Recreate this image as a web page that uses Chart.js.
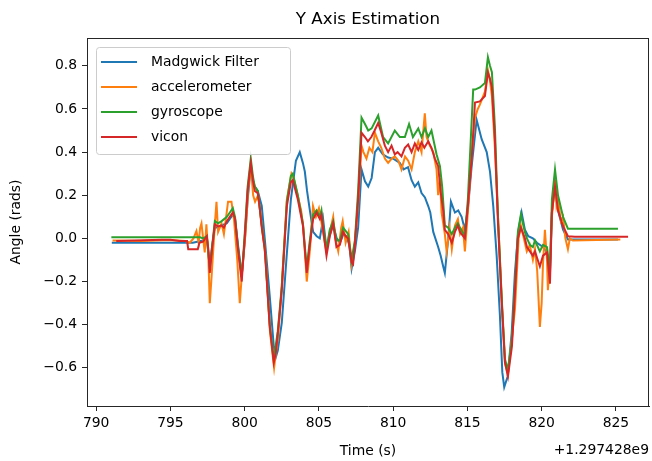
<!DOCTYPE html>
<html lang="en">
<head>
<meta charset="UTF-8">
<title>Y Axis Estimation</title>
<script src="https://cdn.jsdelivr.net/npm/chart.js@4"></script>
<style>
  html, body { margin: 0; padding: 0; background: #fff; }
  #wrap { width: 652px; height: 461px; position: relative; }
</style>
</head>
<body>
<div id="wrap"><canvas id="chart"></canvas></div>
<script>
// tick labels
const xTicks = [790, 795, 800, 805, 810, 815, 820, 825];
const yTicks = [-0.6, -0.4, -0.2, 0.0, 0.2, 0.4, 0.6, 0.8];
const seriesNames = ['Madgwick Filter', 'accelerometer', 'gyroscope', 'vicon'];

// Madgwick filter (time offset from 1.297428e9, angle in rads)
const madgwickT = [791.05, 796.5, 797.2, 797.45, 797.65, 797.8, 797.99, 798.2, 798.45, 798.8, 799.0, 799.2, 799.35, 799.55, 799.8, 800.0, 800.2, 800.41, 800.55, 800.68, 800.88, 801.15, 801.35, 801.69, 801.96, 802.1, 802.23, 802.5, 802.84, 803.11, 803.45, 803.71, 803.92, 804.05, 804.2, 804.39, 804.61, 804.85, 805.06, 805.28, 805.51, 805.75, 805.96, 806.2, 806.41, 806.65, 806.86, 807.05, 807.2, 807.42, 807.64, 807.87, 808.1, 808.32, 808.55, 808.77, 808.99, 809.3, 809.66, 810.0, 810.45, 810.7, 811.0, 811.24, 811.46, 811.69, 811.91, 812.14, 812.36, 812.5, 812.7, 813.03, 813.2, 813.37, 813.48, 813.71, 813.89, 814.16, 814.38, 814.61, 814.83, 815.05, 815.28, 815.62, 815.96, 816.3, 816.52, 816.74, 816.97, 817.19, 817.35, 817.48, 817.71, 817.98, 818.2, 818.42, 818.65, 818.87, 819.1, 819.41, 819.68, 820.09, 820.3, 820.44, 820.56, 820.69, 820.9, 821.1, 821.44, 821.77, 825.14];
const madgwickY = [-0.02, -0.02, -0.01, 0.0, -0.13, -0.04, 0.05, 0.05, 0.06, 0.07, 0.09, 0.11, 0.09, -0.03, -0.17, -0.02, 0.18, 0.33, 0.27, 0.24, 0.22, 0.15, 0.0, -0.27, -0.50, -0.55, -0.52, -0.39, -0.07, 0.18, 0.36, 0.40, 0.35, 0.31, 0.22, 0.13, 0.03, 0.01, 0.0, 0.09, -0.05, 0.02, 0.06, 0.0, -0.02, 0.02, 0.01, -0.03, -0.14, -0.06, 0.05, 0.32, 0.265, 0.24, 0.28, 0.40, 0.42, 0.39, 0.375, 0.37, 0.35, 0.32, 0.33, 0.27, 0.24, 0.26, 0.21, 0.19, 0.15, 0.12, 0.03, -0.04, -0.08, -0.13, -0.16, 0.0, 0.17, 0.12, 0.13, 0.10, 0.04, 0.15, 0.33, 0.55, 0.46, 0.40, 0.31, 0.15, -0.08, -0.36, -0.62, -0.69, -0.64, -0.44, -0.16, 0.03, 0.12, 0.04, 0.01, 0.0, -0.02, -0.04, -0.06, -0.11, -0.17, 0.12, 0.25, 0.13, 0.04, -0.005, -0.005];

// accelerometer
const accelT = [791.1, 793.0, 795.0, 796.0, 796.3, 796.55, 796.75, 796.9, 797.0, 797.09, 797.2, 797.31, 797.42, 797.55, 797.65, 797.75, 797.99, 798.1, 798.21, 798.44, 798.6, 798.75, 798.88, 799.11, 799.29, 799.5, 799.67, 799.83, 800.05, 800.25, 800.41, 800.57, 800.7, 800.9, 801.05, 801.2, 801.4, 801.7, 801.98, 802.12, 802.25, 802.5, 802.84, 803.15, 803.3, 803.6, 803.8, 803.95, 804.18, 804.4, 804.6, 804.8, 805.0, 805.2, 805.5, 805.7, 805.96, 806.1, 806.3, 806.5, 806.6, 806.8, 807.0, 807.2, 807.42, 807.64, 807.87, 808.0, 808.2, 808.4, 808.6, 808.77, 808.99, 809.2, 809.44, 809.66, 809.9, 810.11, 810.35, 810.56, 810.8, 811.01, 811.24, 811.46, 811.69, 811.91, 812.13, 812.25, 812.47, 812.7, 812.92, 813.03, 813.15, 813.26, 813.48, 813.6, 813.8, 813.95, 814.16, 814.36, 814.5, 814.7, 814.83, 815.03, 815.3, 815.51, 815.7, 815.84, 816.18, 816.38, 816.52, 816.65, 816.85, 817.06, 817.32, 817.53, 817.73, 818.0, 818.2, 818.3, 818.45, 818.6, 818.87, 819.0, 819.2, 819.41, 819.55, 819.7, 819.88, 820.0, 820.09, 820.22, 820.36, 820.42, 820.56, 820.69, 820.9, 821.0, 821.1, 821.3, 821.44, 821.6, 821.77, 821.9, 822.1, 825.3];
const accelY = [-0.01, -0.012, -0.008, -0.012, -0.02, 0.0, 0.034, -0.02, 0.05, 0.07, 0.0, -0.065, 0.065, -0.08, -0.30, -0.20, 0.065, 0.17, 0.03, 0.07, 0.02, 0.10, 0.17, 0.17, 0.08, -0.10, -0.30, -0.15, 0.02, 0.24, 0.34, 0.20, 0.17, 0.20, 0.12, 0.03, -0.08, -0.43, -0.60, -0.52, -0.46, -0.22, 0.18, 0.30, 0.28, 0.19, 0.13, 0.05, -0.20, -0.05, 0.15, 0.10, 0.14, 0.06, -0.06, 0.02, 0.10, 0.0, -0.06, 0.05, 0.08, -0.02, 0.03, -0.12, -0.02, 0.16, 0.43, 0.40, 0.37, 0.42, 0.40, 0.49, 0.45, 0.42, 0.37, 0.35, 0.37, 0.38, 0.36, 0.32, 0.38, 0.36, 0.32, 0.40, 0.45, 0.40, 0.58, 0.47, 0.43, 0.40, 0.32, 0.20, 0.28, 0.12, 0.02, -0.06, 0.05, -0.05, 0.06, 0.09, 0.02, 0.05, -0.06, 0.12, 0.40, 0.56, 0.60, 0.62, 0.68, 0.78, 0.73, 0.66, 0.42, 0.10, -0.30, -0.58, -0.63, -0.46, -0.33, -0.20, 0.0, 0.06, -0.02, -0.06, -0.03, -0.10, -0.05, -0.15, -0.41, -0.30, -0.12, 0.04, -0.10, -0.24, -0.12, 0.10, 0.27, 0.15, 0.18, 0.08, 0.10, 0.0, -0.05, 0.0, -0.01, -0.005];

// gyroscope
const gyroT = [791.02, 797.0, 797.2, 797.45, 797.65, 797.8, 797.99, 798.2, 798.45, 798.8, 799.0, 799.2, 799.35, 799.55, 799.8, 800.0, 800.2, 800.41, 800.55, 800.68, 800.88, 801.15, 801.35, 801.69, 801.96, 802.23, 802.5, 802.84, 803.11, 803.24, 803.58, 803.92, 804.18, 804.35, 804.61, 804.84, 805.06, 805.17, 805.3, 805.51, 805.73, 805.96, 806.18, 806.41, 806.63, 806.97, 807.2, 807.42, 807.64, 807.87, 808.1, 808.32, 808.55, 808.99, 809.32, 809.66, 810.11, 810.45, 810.79, 811.07, 811.33, 811.69, 811.91, 812.14, 812.36, 812.58, 812.92, 813.15, 813.3, 813.48, 813.7, 813.95, 814.16, 814.36, 814.5, 814.83, 815.03, 815.39, 815.51, 815.84, 816.18, 816.38, 816.52, 816.65, 816.85, 817.06, 817.32, 817.53, 817.73, 818.0, 818.2, 818.4, 818.6, 818.87, 819.01, 819.21, 819.41, 819.55, 819.88, 820.09, 820.36, 820.56, 820.69, 820.9, 821.1, 821.44, 821.77, 825.14];
const gyroY = [0.005, 0.005, 0.0, 0.01, -0.14, -0.04, 0.08, 0.07, 0.08, 0.10, 0.12, 0.14, 0.10, -0.04, -0.18, 0.02, 0.24, 0.37, 0.29, 0.24, 0.22, 0.06, -0.04, -0.40, -0.56, -0.43, -0.22, 0.17, 0.29, 0.30, 0.20, 0.07, -0.14, -0.03, 0.11, 0.13, 0.10, 0.13, 0.05, -0.05, 0.04, 0.08, -0.01, -0.01, 0.05, 0.02, -0.10, -0.01, 0.22, 0.56, 0.53, 0.50, 0.51, 0.57, 0.47, 0.44, 0.50, 0.47, 0.47, 0.53, 0.47, 0.51, 0.47, 0.51, 0.47, 0.50, 0.39, 0.335, 0.24, 0.06, 0.05, 0.02, 0.05, 0.07, 0.05, 0.01, 0.18, 0.69, 0.69, 0.70, 0.72, 0.84, 0.80, 0.77, 0.52, 0.10, -0.29, -0.56, -0.61, -0.47, -0.22, 0.03, 0.11, 0.03, 0.0, -0.03, -0.04, -0.01, -0.06, -0.03, -0.04, -0.15, 0.18, 0.32, 0.20, 0.10, 0.045, 0.045];

// vicon
const viconT = [791.35, 794.4, 795.0, 795.6, 796.12, 796.2, 796.84, 796.95, 797.2, 797.45, 797.55, 797.65, 797.8, 797.99, 798.2, 798.45, 798.6, 798.8, 799.0, 799.2, 799.35, 799.55, 799.8, 800.0, 800.2, 800.41, 800.55, 800.68, 800.88, 801.0, 801.15, 801.35, 801.69, 801.96, 802.1, 802.23, 802.5, 802.84, 803.11, 803.24, 803.58, 803.75, 803.92, 804.18, 804.35, 804.61, 804.84, 805.06, 805.17, 805.3, 805.51, 805.73, 805.96, 806.18, 806.41, 806.63, 806.8, 806.97, 807.2, 807.3, 807.42, 807.64, 807.87, 808.1, 808.3, 808.53, 808.75, 808.99, 809.2, 809.44, 809.66, 809.89, 810.11, 810.3, 810.56, 810.79, 811.01, 811.24, 811.46, 811.69, 811.91, 812.1, 812.36, 812.58, 812.81, 813.03, 813.21, 813.37, 813.48, 813.7, 813.95, 814.16, 814.36, 814.5, 814.83, 815.03, 815.3, 815.51, 815.84, 816.18, 816.38, 816.52, 816.65, 816.85, 817.06, 817.32, 817.53, 817.73, 818.0, 818.2, 818.4, 818.6, 818.87, 819.01, 819.21, 819.41, 819.55, 819.88, 820.09, 820.36, 820.56, 820.69, 820.9, 821.1, 821.44, 821.77, 822.24, 825.82];
const viconY = [-0.012, -0.006, -0.006, -0.012, -0.012, -0.05, -0.05, -0.02, -0.015, 0.01, -0.05, -0.16, -0.05, 0.065, 0.055, 0.06, 0.05, 0.08, 0.10, 0.12, 0.09, -0.05, -0.20, 0.00, 0.22, 0.35, 0.27, 0.22, 0.21, 0.15, 0.05, -0.05, -0.41, -0.575, -0.53, -0.44, -0.24, 0.15, 0.26, 0.27, 0.18, 0.12, 0.06, -0.16, -0.05, 0.09, 0.12, 0.09, 0.11, 0.03, -0.08, 0.01, 0.07, -0.04, -0.03, 0.03, 0.01, 0.0, -0.11, -0.12, -0.03, 0.18, 0.49, 0.47, 0.45, 0.47, 0.50, 0.535, 0.49, 0.43, 0.40, 0.43, 0.39, 0.40, 0.38, 0.42, 0.435, 0.40, 0.44, 0.41, 0.445, 0.42, 0.45, 0.42, 0.37, 0.335, 0.21, 0.13, 0.04, 0.02, -0.02, 0.03, 0.06, 0.03, 0.00, 0.15, 0.38, 0.63, 0.635, 0.66, 0.77, 0.74, 0.70, 0.46, 0.07, -0.31, -0.575, -0.64, -0.50, -0.25, 0.00, 0.05, 0.00, -0.04, -0.06, -0.08, -0.06, -0.13, -0.08, -0.065, -0.21, 0.12, 0.24, 0.13, 0.056, 0.01, 0.008, 0.008];

const FONT = 'DejaVu Sans';
const colors = ['#1f77b4', '#ff7f0e', '#2ca02c', '#d62728'];
const times = [madgwickT, accelT, gyroT, viconT];
const values = [madgwickY, accelY, gyroY, viconY];

function toPoints(ts, vs) {
  return ts.map((t, i) => ({ x: t, y: vs[i] }));
}

// frame, title, legend box and offset label, drawn like matplotlib does
const decor = {
  id: 'decor',
  afterDraw(chart) {
    const { ctx, chartArea: a } = chart;
    const l = Math.round(a.left), r = Math.round(a.right);
    const t = Math.round(a.top), b = Math.round(a.bottom);
    ctx.save();
    // top and right spines (left and bottom come from the axes)
    ctx.fillStyle = '#262626';
    ctx.fillRect(l, t, r - l, 1);
    ctx.fillRect(r - 1, t, 1, b - t);

    ctx.fillStyle = '#000';
    ctx.textAlign = 'center';
    ctx.textBaseline = 'middle';
    ctx.font = '16.7px "' + FONT + '"';
    ctx.fillText('Y Axis Estimation', (a.left + a.right) / 2, 20);

    ctx.font = '13.9px "' + FONT + '"';
    ctx.textAlign = 'right';
    ctx.fillText('+1.297428e9', a.right, 450);

    // legend
    const lx = a.left + 9, ly = a.top + 9, lw = 194, lh = 107;
    ctx.beginPath();
    ctx.roundRect(lx + 0.5, ly + 0.5, lw, lh, 3);
    ctx.fillStyle = 'rgba(255,255,255,0.8)';
    ctx.fill();
    ctx.strokeStyle = '#cccccc';
    ctx.lineWidth = 1;
    ctx.stroke();
    ctx.textAlign = 'left';
    chart.data.datasets.forEach((ds, i) => {
      const y = a.top + 24 + i * 25;
      ctx.strokeStyle = ds.borderColor;
      ctx.lineWidth = 2;
      ctx.beginPath();
      ctx.moveTo(a.left + 14, y);
      ctx.lineTo(a.left + 50, y);
      ctx.stroke();
      ctx.fillStyle = '#000';
      ctx.fillText(ds.label, a.left + 64, y);
    });
    ctx.restore();
  }
};

new Chart(document.getElementById('chart'), {
  type: 'line',
  data: {
    datasets: seriesNames.map((name, i) => ({
      label: name,
      data: toPoints(times[i], values[i]),
      borderColor: colors[i],
      backgroundColor: colors[i],
      borderWidth: 2,
      pointRadius: 0,
      tension: 0,
      fill: false,
      order: 4 - i
    }))
  },
  options: {
    responsive: true,
    maintainAspectRatio: false,
    animation: false,
    layout: { padding: { top: 38, right: 3, left: 0, bottom: 0 } },
    plugins: {
      legend: { display: false },
      title: { display: false },
      tooltip: { enabled: false }
    },
    scales: {
      x: {
        type: 'linear',
        min: 789.38,
        max: 827.23,
        afterFit: s => { s.height = 55; },
        afterBuildTicks: s => { s.ticks = xTicks.map(v => ({ value: v })); },
        grid: { drawOnChartArea: false, drawTicks: true, tickLength: 5, color: '#262626' },
        border: { display: true, color: '#262626', width: 1 },
        ticks: {
          color: '#000', padding: 4, maxRotation: 0, autoSkip: false,
          font: { family: FONT, size: 13.9 },
          callback: v => String(v)
        },
        title: {
          display: true, text: 'Time (s)', color: '#000',
          font: { family: FONT, size: 13.9 },
          padding: { top: 0, bottom: 1 }
        }
      },
      y: {
        min: -0.777,
        max: 0.929,
        afterFit: s => { s.width = 87; },
        afterBuildTicks: s => { s.ticks = yTicks.map(v => ({ value: v })); },
        grid: { drawOnChartArea: false, drawTicks: true, tickLength: 5, color: '#262626' },
        border: { display: true, color: '#262626', width: 1 },
        ticks: {
          color: '#000', padding: 5, autoSkip: false,
          font: { family: FONT, size: 13.9 },
          callback: v => (v < -1e-9 ? '\u2212' : '') + Math.abs(v).toFixed(1)
        },
        title: {
          display: true, text: 'Angle (rads)', color: '#000',
          font: { family: FONT, size: 13.9 },
          padding: { top: 8, bottom: 0 }
        }
      }
    }
  },
  plugins: [decor]
});
</script>
</body>
</html>
